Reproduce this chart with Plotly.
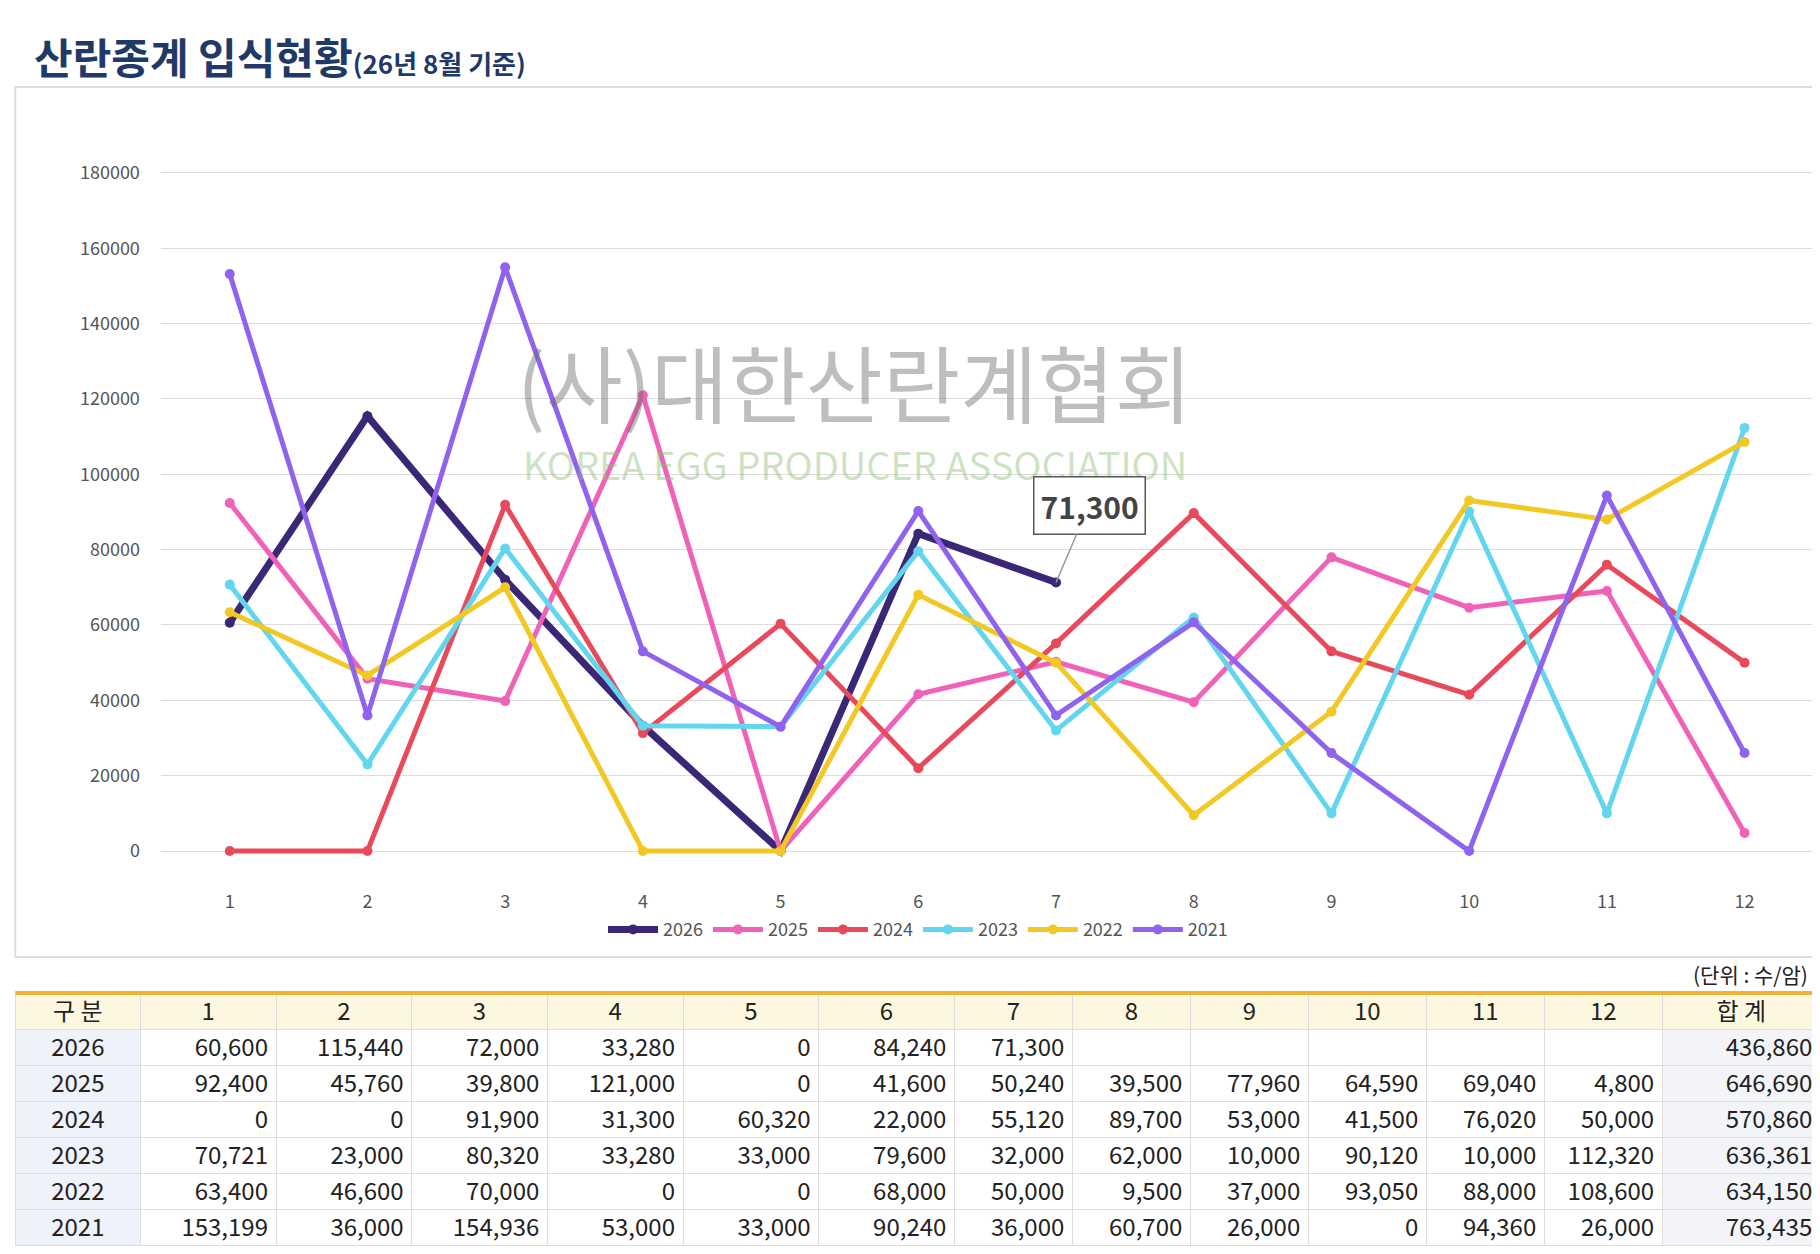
import plotly.graph_objects as go

months = [1,2,3,4,5,6,7,8,9,10,11,12]
years = ["2026","2025","2024","2023","2022","2021"]
v2026 = [60600,115440,72000,33280,0,84240,71300]
v2025 = [92400,45760,39800,121000,0,41600,50240,39500,77960,64590,69040,4800]
v2024 = [0,0,91900,31300,60320,22000,55120,89700,53000,41500,76020,50000]
v2023 = [70721,23000,80320,33280,33000,79600,32000,62000,10000,90120,10000,112320]
v2022 = [63400,46600,70000,0,0,68000,50000,9500,37000,93050,88000,108600]
v2021 = [153199,36000,154936,53000,33000,90240,36000,60700,26000,0,94360,26000]
totals = [436860,646690,570860,636361,634150,763435]
series = [v2026,v2025,v2024,v2023,v2022,v2021]
colors = ["#3a2775","#f062b8","#e84a5c","#63d6ef","#f2c824","#9063ee"]
widths = [7,5,5,5,5,5]
FONT = "Noto Sans CJK KR"

fig = go.Figure()
for y, vals, c, w in zip(years, series, colors, widths):
    fig.add_trace(go.Scatter(x=months[:len(vals)], y=vals, name=y, mode="lines+markers",
                             line=dict(color=c, width=w), marker=dict(color=c, size=10),
                             cliponaxis=False))

header = ["구 분"] + [str(m) for m in months] + ["합 계"]
cols = [years]
for i in range(12):
    cols.append([f"{s[i]:,}" if i < len(s) else "" for s in series])
cols.append([f"{t:,}" for t in totals])
fig.add_trace(go.Table(
    domain=dict(x=[0.004, 0.996], y=[0.005, 0.214]),
    columnwidth=[106] + [115]*6 + [100]*6 + [134],
    header=dict(values=header, fill_color="#fdf7e0", line=dict(color="#dddddd", width=1),
                font=dict(family=FONT, size=24, color="#222"), align="center", height=36),
    cells=dict(values=cols, fill_color=[["#eef2fb"]*6] + [["white"]*6]*12 + [["#f3f4f8"]*6],
               line=dict(color="#dddddd", width=1),
               font=dict(family=FONT, size=24, color="#222"),
               align=["center"] + ["right"]*13, height=36)))

fig.update_layout(
    width=1820, height=1254, margin=dict(l=0, r=0, t=0, b=0),
    paper_bgcolor="white", plot_bgcolor="white",
    font=dict(family=FONT, color="#555"),
    xaxis=dict(domain=[0.084, 0.992], range=[0.5, 12.5], tickvals=months,
               showgrid=False, zeroline=False, showline=False, tickfont=dict(size=18, color="#555")),
    yaxis=dict(domain=[0.2977, 0.8985], range=[-10000, 190000], tickformat="d",
               tickvals=list(range(0, 180001, 20000)), gridcolor="#dcdcdc",
               zeroline=False, tickfont=dict(size=18, color="#555"), ticklabelstandoff=20),
    legend=dict(orientation="h", x=0.5, xanchor="center", y=0.265, yanchor="middle",
                font=dict(size=18, color="#555"), itemwidth=50),
    shapes=[dict(type="rect", xref="paper", yref="paper", x0=0.004, x1=0.996,
                 y0=1-949/1254, y1=1-79/1254, line=dict(color="#dddddd", width=2)),
            dict(type="line", xref="paper", yref="paper", x0=0.004, x1=0.996,
                 y0=0.2145, y1=0.2145, line=dict(color="#f2b233", width=4))],
    annotations=[
        dict(xref="paper", yref="paper", x=0.013, y=1-48/1254, xanchor="left", yanchor="middle",
             showarrow=False, text="<b>산란종계 입식현황</b><b><span style='font-size:26px'>(26년 8월 기준)</span></b>",
             font=dict(family=FONT, size=42, color="#1f3a66")),
        dict(xref="paper", yref="paper", x=0.99, y=1-966/1254, xanchor="right", yanchor="middle",
             showarrow=False, text="(단위 : 수/암)", font=dict(family=FONT, size=21, color="#222")),
        dict(x=5.54, y=125000, showarrow=False, text="(사)대한산란계협회",
             font=dict(family=FONT, size=84, color="rgba(110,110,110,0.45)")),
        dict(x=5.54, y=103000, showarrow=False, text="KOREA EGG PRODUCER ASSOCIATION",
             font=dict(family=FONT, size=38, color="rgba(140,190,120,0.45)")),
        dict(x=7, y=71300, ax=7.24, ay=91800, axref="x", ayref="y", text="<b>71,300</b>",
             showarrow=True, arrowhead=0, arrowcolor="#999", arrowwidth=1.5,
             bgcolor="white", bordercolor="#555", borderwidth=1.5, borderpad=6,
             font=dict(family=FONT, size=30, color="#444")),
    ])
fig.write_html("out.html")
